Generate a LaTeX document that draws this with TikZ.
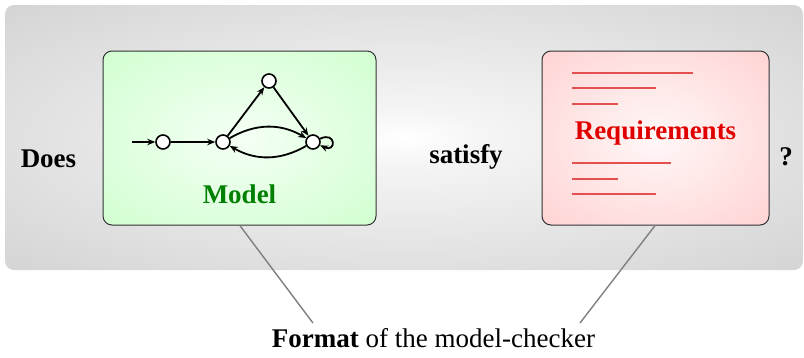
\documentclass[tikz,border=0pt]{standalone}
\usepackage{fontspec}
\setmainfont{Liberation Serif}
\usetikzlibrary{arrows.meta}
\definecolor{modelgreen}{RGB}{0,128,0}
\definecolor{reqline}{RGB}{228,80,80}
\definecolor{reqtext}{RGB}{225,0,0}
\pgfdeclareradialshading{bgshade}{\pgfpoint{0bp}{0bp}}{color(0bp)=(white); color(5bp)=(white!96!black); color(50bp)=(black!23)}
\pgfdeclareradialshading{greenshade}{\pgfpoint{0bp}{0bp}}{color(0bp)=(green!4); color(50bp)=(green!24)}
\pgfdeclareradialshading{redshade}{\pgfpoint{0bp}{0bp}}{color(0bp)=(red!3); color(50bp)=(red!23)}
\begin{document}
\begin{tikzpicture}[x=1pt,y=1pt,
  box/.style={draw=black!80, line width=1pt, rounded corners=9pt, inner sep=0pt, outer sep=0pt},
  st/.style={circle, draw, fill=white, line width=1.6pt, minimum size=14pt, inner sep=0pt},
  arr/.style={-{Stealth[length=8pt,width=6.5pt]}, line width=1.8pt},
  lbl/.style={anchor=base, inner sep=0pt, font=\fontsize{27}{31}\selectfont\bfseries},
  plain/.style={anchor=base, inner sep=0pt, font=\fontsize{27}{31}\selectfont},
  callout/.style={draw=black!50, line width=1.4pt},
  rline/.style={draw=reqline, line width=1.4pt}]
\useasboundingbox (0,0) rectangle (804,-357);
\path[shading=bgshade, rounded corners=9pt] (5,-5) rectangle (803,-270);
\node[box, shading=greenshade, minimum width=273pt, minimum height=174pt, anchor=north west] (model) at (103,-51) {};
\node[box, shading=redshade, minimum width=227pt, minimum height=174pt, anchor=north west] (req) at (542,-51) {};
% automaton
\node[st] (s1) at (163,-142) {};
\node[st] (s2) at (223,-142) {};
\node[st] (s3) at (269,-81) {};
\node[st] (s4) at (313,-142) {};
\coordinate (init) at (132,-142);
\draw[arr] (init) -- (s1);
\draw[arr] (s1) -- (s2);
\draw[arr] (s2) -- (s3);
\draw[arr] (s3) -- (s4);
\draw[arr] (s2) to[bend left=30] (s4);
\draw[arr] (s4) to[bend left=30] (s2);
\draw[arr] (s4) to[out=25,in=-25,looseness=7] (s4);
% requirement lines
\draw[rline] (572,-73) -- (693,-73);
\draw[rline] (572,-88) -- (656,-88);
\draw[rline] (572,-104) -- (618,-104);
\draw[rline] (572,-163) -- (671,-163);
\draw[rline] (572,-179) -- (618,-179);
\draw[rline] (572,-194) -- (656,-194);
% texts
\node[lbl, text=modelgreen] (mlabel) at (239.5,-203) {Model};
\node[lbl, text=reqtext] (rlabel) at (655.5,-139) {Requirements};
\node[lbl] (does) at (48.5,-167) {Does};
\node[lbl] (sat) at (466,-163) {satisfy};
\node[lbl] (q) at (786,-165) {?};
\node[plain] (fmt) at (433.5,-347) {\textbf{Format} of the model-checker};
% callouts
\coordinate (c1) at (313,-323);
\coordinate (c2) at (580,-323);
\draw[callout] (model.south) -- (c1);
\draw[callout] (req.south) -- (c2);
\end{tikzpicture}
\end{document}
